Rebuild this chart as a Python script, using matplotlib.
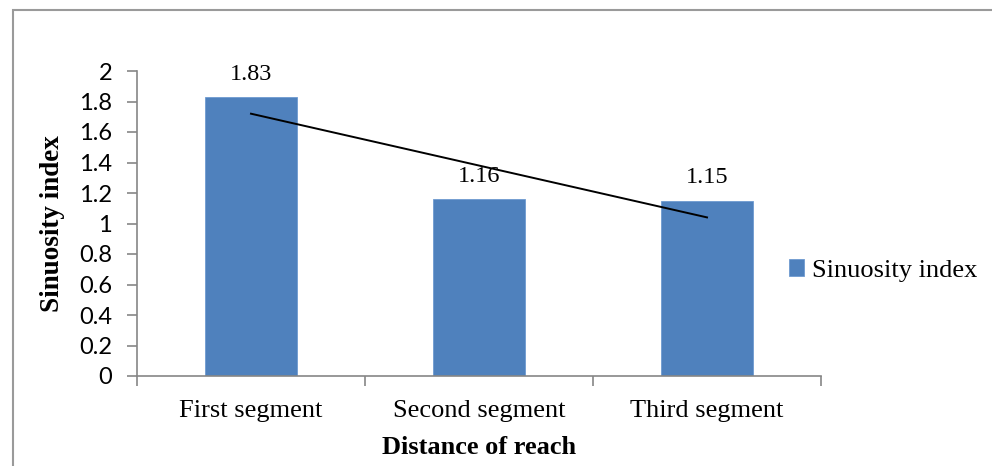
import numpy as np
import matplotlib
matplotlib.use('Agg')
import matplotlib.pyplot as plt
from matplotlib.patches import Rectangle

segments = ['First segment', 'Second segment', 'Third segment']
sinuosity = [1.83, 1.16, 1.15]
yticks = [0, 0.2, 0.4, 0.6, 0.8, 1, 1.2, 1.4, 1.6, 1.8, 2]
ytick_labels = ['0', '0.2', '0.4', '0.6', '0.8', '1', '1.2', '1.4', '1.6', '1.8', '2']

serif = 'Liberation Serif'
sans = 'Lato'
bar_color = '#4f81bd'
axis_color = '#868686'

fig = plt.figure(figsize=(9.92, 4.66), dpi=100)
ax = fig.add_axes([137 / 992, 1 - 376 / 466, 684 / 992, 305 / 466])

# outer chart frame (cut off at right and bottom)
fig.patches.append(Rectangle((13 / 992, -0.1), 1.2, 1.1 - 10 / 466,
                             transform=fig.transFigure, fill=False,
                             edgecolor='#9a9a9a', linewidth=1.5))

x = np.arange(len(segments))
bars = ax.bar(x, sinuosity, width=0.4, color=bar_color, edgecolor='#6f9bd1',
              linewidth=0.6, label='Sinuosity index', zorder=2)

for xi, v in zip(x, sinuosity):
    ax.text(xi, v + 0.08, f'{v:.2f}', ha='center', va='bottom',
            fontsize=17.5, family=serif)

# linear trendline
slope, intercept = np.polyfit(x, sinuosity, 1)
ax.plot(x, slope * x + intercept, color='black', linewidth=1.4, zorder=3)

ax.set_xlim(-0.5, 2.5)
ax.set_ylim(0, 2)
ax.set_yticks(yticks)
ax.set_yticklabels(ytick_labels, family=sans, fontsize=17)
ax.set_xticks(x)
ax.set_xticklabels(segments, family=serif, fontsize=19)
ax.tick_params(axis='x', length=0, pad=17)
ax.set_xticks([-0.5, 0.5, 1.5, 2.5], minor=True)
ax.tick_params(axis='x', which='minor', length=7, color=axis_color, width=1.2)
ax.tick_params(axis='y', length=7, color=axis_color, width=1.2, pad=11)

for s in ['top', 'right']:
    ax.spines[s].set_visible(False)
for s in ['left', 'bottom']:
    ax.spines[s].set_color(axis_color)
    ax.spines[s].set_linewidth(1.2)

ax.set_ylabel('Sinuosity index', family=serif, fontsize=19.5, fontweight='bold')
ax.yaxis.set_label_coords(-0.105, 0.5)
ax.set_xlabel('Distance of reach', family=serif, fontsize=19, fontweight='bold',
              labelpad=10)

ax.legend(loc='center left', bbox_to_anchor=(0.918, 0.345), frameon=False,
          prop={'family': serif, 'size': 19}, handlelength=0.6,
          handleheight=0.6, handletextpad=0.3)

fig.savefig('out.png', dpi=100)
